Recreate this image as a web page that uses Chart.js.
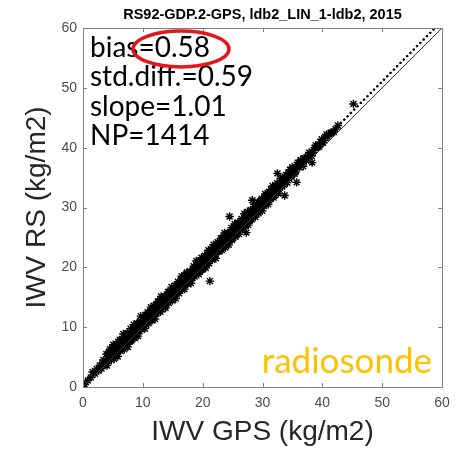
<!DOCTYPE html>
<html>
<head>
<meta charset="utf-8">
<script src="https://cdn.jsdelivr.net/npm/chart.js@4.4.0/dist/chart.umd.min.js"></script>
<style>
  html, body { margin: 0; padding: 0; background: #fff; }
</style>
</head>
<body>
<canvas id="scatter-canvas" width="466" height="451"></canvas>
<script>
// IWV from GPS (x) and from radiosonde (y)
var gpsIwv = [0.3,0.8,1.3,1.6,2.0,2.3,2.6,2.8,
  3.1,3.4,3.6,3.9,
  4.0,4.2,4.4,4.5,4.7,4.8,4.95,
  5.05,5.2,5.35,5.5,5.6,5.8,5.9,
  6.0,6.15,6.3,6.45,6.6,6.75,6.9,
  7.05,7.2,7.35,7.5,7.65,7.8,7.95,
  8.05,8.2,8.35,8.5,8.65,8.8,8.95,
  9.05,9.2,9.35,9.5,9.65,9.8,9.95,
  10.05,10.2,10.35,10.5,10.65,10.8,10.95,
  11.05,11.2,11.35,11.5,11.65,11.8,11.95,
  12.05,12.2,12.35,12.5,12.65,12.8,12.95,
  13.05,13.2,13.35,13.5,13.65,13.8,13.95,
  14.05,14.2,14.35,14.5,14.65,14.8,14.95,
  15.05,15.2,15.35,15.5,15.65,15.8,15.95,
  16.05,16.2,16.35,16.5,16.65,16.8,16.95,
  17.05,17.2,17.35,17.5,17.65,17.8,17.95,
  18.05,18.2,18.35,18.5,18.65,18.8,18.95,
  19.05,19.2,19.35,19.5,19.65,19.8,19.95,
  20.05,20.2,20.35,20.5,20.65,20.8,20.95,
  21.05,21.2,21.35,21.5,21.65,21.8,21.95,
  22.05,22.2,22.35,22.5,22.65,22.8,22.95,
  23.05,23.2,23.35,23.5,23.65,23.8,23.95,
  24.05,24.2,24.35,24.5,24.65,24.8,24.95,
  25.05,25.2,25.35,25.5,25.65,25.8,25.95,
  26.05,26.2,26.35,26.5,26.65,26.8,26.95,
  27.05,27.2,27.35,27.5,27.65,27.8,27.95,
  28.05,28.2,28.35,28.5,28.65,28.8,28.95,
  29.05,29.2,29.35,29.5,29.65,29.8,29.95,
  30.05,30.25,30.45,30.6,30.8,30.95,
  31.1,31.3,31.5,31.7,31.85,
  32.05,32.25,32.45,32.65,32.85,
  33.05,33.3,33.5,33.75,33.95,
  34.15,34.4,34.6,34.85,
  35.1,35.35,35.6,35.9,
  36.2,36.5,36.8,
  37.1,37.45,37.8,
  38.2,38.6,38.9,
  39.3,39.7,
  40.1,40.5,40.9,
  41.4,41.9,
  42.2,
  45.2,21.2,24.5,
  28.3,33.7,35.7,38.3,27.3,32.5];

var rsIwv = [0.4,1.1,1.6,2.5,2.2,3.0,2.7,3.6,
  3.1,4.5,4.0,5.5,
  3.6,5.1,4.6,6.3,4.5,6.0,5.45,
  7.05,4.7,6.15,5.6,7.1,5.1,6.9,
  6.3,7.85,6.0,7.55,7.0,8.85,6.3,
  7.75,7.1,8.85,6.7,8.55,8.0,9.75,
  7.75,9.4,8.85,10.4,8.15,9.6,9.05,
  10.65,8.5,10.35,9.8,11.85,9.6,10.65,
  10.05,11.6,9.75,11.4,11.05,12.5,10.65,
  12.15,11.4,13.35,11.1,12.25,13.1,11.85,
  11.35,13.7,12.85,14.3,12.65,13.8,12.55,
  15.15,13.0,14.15,13.7,15.15,13.2,15.15,
  14.45,15.9,14.05,15.4,14.75,16.7,14.45,
  16.05,15.2,16.95,14.8,16.35,17.2,16.25,
  15.65,17.4,16.75,18.5,16.55,17.6,16.35,
  18.55,17.3,19.15,17.2,18.55,18.3,19.25,
  17.35,19.2,18.55,20.2,18.45,19.4,21.05,
  19.05,20.6,18.85,20.6,19.95,21.6,19.65,
  20.85,20.1,21.95,19.9,21.85,21.2,22.85,
  20.65,22.1,21.45,23.0,22.15,23.8,21.75,
  23.15,21.5,23.05,24.2,22.65,24.1,23.25,
  24.85,22.9,24.35,23.7,25.75,23.3,24.75,
  24.15,25.7,23.75,25.4,25.05,26.6,24.75,
  26.25,25.5,27.25,25.1,26.35,27.2,25.95,
  25.55,27.2,26.55,28.1,26.35,27.6,28.95,
  26.95,28.5,27.85,29.3,27.05,28.7,28.05,
  29.55,28.0,29.45,28.8,30.55,28.4,29.65,
  29.25,30.9,29.05,30.5,30.05,31.2,29.45,
  30.95,30.25,32.25,31.0,32.0,30.55,
  32.6,31.4,32.3,33.6,31.65,
  33.15,32.55,34.05,32.35,33.75,
  34.85,33.5,34.7,34.25,35.45,
  34.15,35.4,36.3,35.25,
  36.4,35.65,36.4,37.5,
  36.7,37.7,36.9,
  38.2,38.15,39.2,
  38.6,39.6,40.4,
  40.1,40.9,
  40.8,41.8,41.8,
  42.5,42.6,
  43.1,
  47.3,17.7,28.5,
  31.2,32.0,34.2,37.5,25.8,35.7];

// second batch of points, filling the core of the band
var gpsIwvCore = [3.28,3.73,
  4.12,4.28,4.43,4.58,4.73,4.88,
  5.12,5.28,5.43,5.58,5.73,5.88,
  6.12,6.28,6.43,6.58,6.73,6.88,
  7.12,7.28,7.43,7.58,7.73,7.88,
  8.12,8.28,8.43,8.58,8.73,8.88,
  9.12,9.28,9.43,9.58,9.73,9.88,
  10.12,10.28,10.43,10.58,10.73,10.88,
  11.12,11.28,11.43,11.58,11.73,11.88,
  12.12,12.28,12.43,12.58,12.73,12.88,
  13.12,13.28,13.43,13.58,13.73,13.88,
  14.12,14.28,14.43,14.58,14.73,14.88,
  15.12,15.28,15.43,15.58,15.73,15.88,
  16.12,16.28,16.43,16.58,16.73,16.88,
  17.12,17.28,17.43,17.58,17.73,17.88,
  18.12,18.28,18.43,18.58,18.73,18.88,
  19.12,19.28,19.43,19.58,19.73,19.88,
  20.12,20.28,20.43,20.58,20.73,20.88,
  21.12,21.28,21.43,21.58,21.73,21.88,
  22.12,22.28,22.43,22.58,22.73,22.88,
  23.12,23.28,23.43,23.58,23.73,23.88,
  24.12,24.28,24.43,24.58,24.73,24.88,
  25.12,25.28,25.43,25.58,25.73,25.88,
  26.12,26.28,26.43,26.58,26.73,26.88,
  27.12,27.28,27.43,27.58,27.73,27.88,
  28.12,28.28,28.43,28.58,28.73,28.88,
  29.12,29.28,29.43,29.58,29.73,29.88,
  30.15,30.35,30.55,30.7,30.88,
  31.05,31.2,31.4,31.6,31.78,31.95,
  32.15,32.35,32.55,32.75,32.95,
  33.15,33.4,33.6,33.85,
  34.05,34.3,34.5,34.75,34.95,
  35.25,35.5,35.75,
  36.05,36.35,36.65,36.95,
  37.3,37.6,37.95,
  38.4,38.75,
  39.1,39.5,39.9,
  40.3,40.7,
  41.1,41.6,
  42.6];

var rsIwvCore = [4.08,3.93,
  5.52,4.28,5.03,5.68,5.03,6.48,
  5.52,6.58,5.23,6.48,5.93,7.58,
  7.12,6.38,7.93,7.08,7.53,6.78,
  8.32,7.58,9.03,7.58,8.43,7.58,
  9.02,8.38,9.83,9.18,9.83,8.68,
  9.52,10.48,9.33,11.08,10.53,10.08,
  11.12,10.58,12.03,10.38,11.93,11.48,
  11.22,12.68,12.13,11.28,12.73,13.58,
  12.92,12.28,13.73,12.98,14.33,13.08,
  13.42,14.38,13.23,15.08,14.43,13.98,
  15.32,14.88,15.93,14.48,15.73,15.28,
  14.92,16.18,15.93,16.88,15.83,17.58,
  16.82,16.48,17.83,16.28,17.83,17.48,
  17.42,18.88,17.43,18.58,18.13,19.28,
  19.22,18.18,19.23,20.08,19.03,20.08,
  20.02,19.38,21.03,20.18,19.53,20.98,
  20.32,21.48,21.13,20.58,22.23,21.28,
  22.42,21.58,22.33,21.28,23.33,22.68,
  22.12,23.28,22.83,23.98,23.33,22.78,
  24.02,24.88,23.53,24.68,24.23,25.28,
  24.92,24.28,25.73,24.88,25.73,24.58,
  25.52,26.78,25.43,26.58,26.03,27.48,
  27.22,26.68,27.73,26.68,27.43,26.68,
  28.02,27.48,28.93,28.18,28.93,27.78,
  28.52,29.48,28.43,30.18,29.53,29.08,
  30.12,29.58,30.83,29.48,30.63,31.48,
  30.45,31.45,30.55,32.1,31.58,
  31.25,32.3,33.0,31.9,32.78,31.95,
  33.55,33.05,32.65,33.95,33.35,
  34.05,35.0,33.8,34.95,
  34.85,35.8,34.8,35.85,36.75,
  36.35,35.9,37.15,
  37.05,37.95,37.45,38.25,
  37.8,38.6,38.75,
  39.1,39.95,
  40.2,40.2,41.4,
  41.2,42.2,
  42.3,42.5,
  43.7];

// 1:1 line and the fitted line (dotted)
var oneToOneX = [0, 60];
var oneToOneY = [0, 60];
var fitX = [0, 60];
var fitY = [0.58, 61.18];

var axisTicks = [0, 10, 20, 30, 40, 50, 60];
var statLines = ["bias=0.58", "std.diff.=0.59", "slope=1.01", "NP=1414"];
var chartTitle = "RS92-GDP.2-GPS, ldb2_LIN_1-ldb2, 2015";

function toXY(xs, ys) {
  var out = [];
  for (var i = 0; i < xs.length; i++) out.push({x: xs[i], y: ys[i]});
  return out;
}

// box, inward ticks, text labels and the red ellipse
var overlay = {
  id: 'overlay',
  afterDraw: function(chart) {
    var ctx = chart.ctx;
    var a = chart.chartArea;
    var xs = chart.scales.x, ys = chart.scales.y;
    ctx.save();
    ctx.strokeStyle = "#808080";
    ctx.lineWidth = 1;
    ctx.strokeRect(Math.round(a.left) + 0.5, Math.round(a.top) + 0.5,
      Math.round(a.right - a.left), Math.round(a.bottom - a.top));
    ctx.beginPath();
    axisTicks.forEach(function(v) {
      var px = Math.round(xs.getPixelForValue(v)) + 0.5;
      ctx.moveTo(px, a.bottom); ctx.lineTo(px, a.bottom - 4);
      ctx.moveTo(px, a.top); ctx.lineTo(px, a.top + 4);
      var py = Math.round(ys.getPixelForValue(v)) + 0.5;
      ctx.moveTo(a.left, py); ctx.lineTo(a.left + 4, py);
      ctx.moveTo(a.right, py); ctx.lineTo(a.right - 4, py);
    });
    ctx.stroke();

    ctx.fillStyle = "#000";
    ctx.font = "28px Lato";
    ctx.textAlign = "left";
    ctx.textBaseline = "alphabetic";
    for (var i = 0; i < statLines.length; i++) {
      ctx.fillText(statLines[i], a.left + 7, a.top + 29 + i * 29.3);
    }

    ctx.strokeStyle = "#e3161b";
    ctx.lineWidth = 3.5;
    ctx.beginPath();
    ctx.ellipse(a.left + 98, a.top + 21, 48, 18, 0, 0, Math.PI * 2);
    ctx.stroke();

    ctx.fillStyle = "#ffc000";
    ctx.font = "35px Lato";
    ctx.textAlign = "right";
    ctx.fillText("radiosonde", a.right - 10, a.bottom - 14);
    ctx.restore();
  }
};

var ctx = document.getElementById("scatter-canvas");

var starStyle = {
  pointStyle: "star",
  pointRadius: 4.2,
  borderColor: "#000000",
  backgroundColor: "#000000",
  borderWidth: 1.4
};

var chartData = {
  datasets: [{
    label: "1:1",
    data: toXY(oneToOneX, oneToOneY),
    showLine: true,
    borderColor: "#333333",
    borderWidth: 1,
    pointRadius: 0,
    order: 1
  }, {
    label: "fit",
    data: toXY(fitX, fitY),
    showLine: true,
    borderColor: "#000000",
    borderWidth: 2.5,
    borderDash: [0.1, 4.6],
    borderCapStyle: "round",
    pointRadius: 0,
    order: 0
  }, Object.assign({
    label: "IWV",
    data: toXY(gpsIwv, rsIwv),
    order: 2
  }, starStyle), Object.assign({
    label: "IWV core",
    data: toXY(gpsIwvCore, rsIwvCore),
    order: 3
  }, starStyle)]
};

var options = {
  responsive: false,
  animation: false,
  layout: { padding: { left: 0, right: 24, top: 0, bottom: 0 } },
  plugins: {
    legend: { display: false },
    tooltip: { enabled: false },
    title: {
      display: true,
      text: chartTitle,
      fullSize: false,
      color: "#000",
      font: { family: "'Liberation Sans', Arial", size: 14.5, weight: "bold", lineHeight: 1.2 },
      padding: { top: 6, bottom: 4.6 }
    }
  },
  scales: {
    x: {
      type: "linear",
      min: 0, max: 60,
      afterFit: function(s) { s.height = 64; },
      afterBuildTicks: function(s) { s.ticks = axisTicks.map(function(v) { return {value: v}; }); },
      grid: { display: false, drawTicks: false },
      border: { display: false },
      ticks: { color: "#4d4d4d", padding: 8, maxRotation: 0,
        font: { family: "'Liberation Sans', Arial", size: 14 } },
      title: { display: true, text: "IWV GPS (kg/m2)", color: "#262626",
        font: { family: "'Liberation Sans', Arial", size: 28 }, padding: { top: 0, bottom: 2 } }
    },
    y: {
      type: "linear",
      min: 0, max: 60,
      afterFit: function(s) { s.width = 83; },
      afterBuildTicks: function(s) { s.ticks = axisTicks.map(function(v) { return {value: v}; }); },
      grid: { display: false, drawTicks: false },
      border: { display: false },
      ticks: { color: "#4d4d4d", padding: 6,
        font: { family: "'Liberation Sans', Arial", size: 14 } },
      title: { display: true, text: "IWV RS (kg/m2)", color: "#262626",
        font: { family: "'Liberation Sans', Arial", size: 28 }, padding: { top: 20, bottom: 0 } }
    }
  }
};

var chart = new Chart(ctx, {
  type: "scatter",
  data: chartData,
  options: options,
  plugins: [overlay]
});
</script>
</body>
</html>
